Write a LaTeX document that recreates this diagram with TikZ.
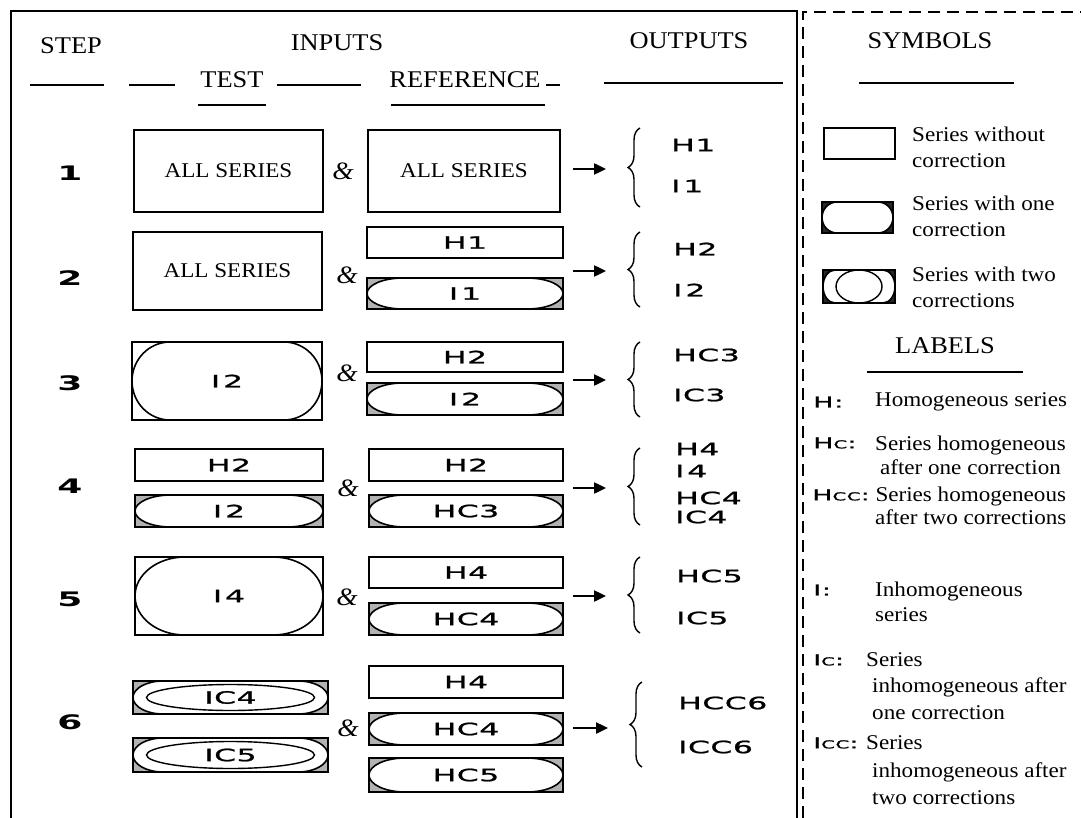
\documentclass[tikz,border=0pt]{standalone}
\usepackage{fontspec}
\setmainfont{Liberation Serif}[FakeStretch=1.1]
\newfontfamily\labfont{DejaVu Sans}[FakeStretch=1.85,LetterSpace=3,FakeBold=1.2]
\newfontfamily\numfont{DejaVu Sans Bold}[FakeStretch=1.8]
\newfontfamily\leglabfont{DejaVu Sans}[FakeStretch=1.8,LetterSpace=5,FakeBold=1.2]
\newcommand\smc[1]{{\fontsize{11}{11}\selectfont #1}}
\usetikzlibrary{calc,arrows.meta,decorations.pathreplacing}
\begin{document}
\begin{tikzpicture}[x=1pt,y=-1pt,
  hdtxt/.style={font=\fontsize{24}{27}\selectfont, inner sep=0pt},
  bxtxt/.style={font=\fontsize{21}{25}\selectfont, inner sep=0pt},
  lgtxt/.style={font=\fontsize{21}{26}\selectfont, inner sep=0pt, anchor=west},
  lab/.style={font=\labfont\fontsize{17}{19}\selectfont, inner sep=0pt},
  outlab/.style={lab, anchor=west},
  leglab/.style={font=\leglabfont\fontsize{15}{17}\selectfont, inner sep=0pt, anchor=west},
  stepnum/.style={font=\numfont\fontsize{20}{22}\selectfont, inner sep=0pt},
  ampnd/.style={font=\itshape\fontsize{25}{28}\selectfont, inner sep=0pt},
  hrule/.style={line width=1.8pt},
  frm/.style={line width=2pt},
  dfrm/.style={line width=2.6pt, dash pattern=on 12pt off 7pt},
  arr/.style={line width=2.4pt, -{Triangle[length=12pt,width=11pt]}},
  brc/.style={line width=1.4pt, decorate, decoration={brace, amplitude=12pt}},
  sbox/.style 2 args={draw, line width=2pt, inner sep=0pt, minimum width=#1pt, minimum height=#2pt, lab},
  stad/.style 2 args={insert path={
    ($(path picture bounding box.north west)+(#1pt,0pt)$) --
    ($(path picture bounding box.north east)+(-#1pt,0pt)$)
    arc[start angle=90, end angle=-90, x radius=#1pt, y radius=#2pt] --
    ($(path picture bounding box.south west)+(#1pt,0pt)$)
    arc[start angle=270, end angle=90, x radius=#1pt, y radius=#2pt] -- cycle}},
  corr/.style n args={5}{sbox={#1}{#2}, fill=#5, path picture={
    \path[fill=white, draw=black, line width=1.6pt, stad={#3}{#4}];}},
  corrtwo/.style n args={7}{sbox={#1}{#2}, fill=#5, path picture={
    \path[fill=white, draw=black, line width=1.6pt, stad={#3}{#4}];
    \draw[line width=1.4pt] (path picture bounding box.center) ellipse [x radius=#6pt, y radius=#7pt];}},
]
\useasboundingbox (0,0) rectangle (1081,818);

% frames
\draw[frm] (11,818) -- (11,11) -- (797,11) -- (797,818);
\draw[dfrm] (803,818) -- (803,12) -- (1081,12);

% headers
\node[hdtxt] (hstep) at (71,46) {STEP};
\node[hdtxt] (hin) at (337,43) {INPUTS};
\node[hdtxt] (htest) at (232,80) {TEST};
\node[hdtxt] (href) at (465,80) {REFERENCE};
\node[hdtxt] (hout) at (689,41) {OUTPUTS};
\node[hdtxt] (hsym) at (930,41) {SYMBOLS};
\draw[hrule] (30,85) -- (104,85);
\draw[hrule] (129,85) -- (175,85);
\draw[hrule] (277,85) -- (361,85);
\draw[hrule] (546,85) -- (560,85);
\draw[hrule] (198,105) -- (266,105);
\draw[hrule] (391,105) -- (545,105);
\draw[hrule] (604,83) -- (783,83);
\draw[hrule] (859,83) -- (1014,83);

% step numbers
\node[stepnum] (n1) at (70,173) {1};
\node[stepnum] (n2) at (70,278) {2};
\node[stepnum] (n3) at (70,383) {3};
\node[stepnum] (n4) at (70,486) {4};
\node[stepnum] (n5) at (70,599) {5};
\node[stepnum] (n6) at (70,722) {6};

% step 1
\node[sbox={189}{82}, bxtxt] (t1) at (228.5,171) {ALL SERIES};
\node[ampnd] (am1) at (343,171) {\&};
\node[sbox={192}{82}, bxtxt] (r1) at (464,171) {ALL SERIES};

% step 2
\node[sbox={189}{78}, bxtxt] (t2) at (227.5,271) {ALL SERIES};
\node[ampnd] (am2) at (347,275) {\&};
\node[sbox={196}{31}] (r2a) at (465,242.5) {H1};
\node[corr={196}{31}{36}{15.5}{gray!60}] (r2b) at (465,293.5) {I\,1};

% step 3
\node[corr={190}{78}{38}{39}{white}] (t3) at (227,381) {I\,2};
\node[ampnd] (am3) at (347,373) {\&};
\node[sbox={196}{30}] (r3a) at (465,357) {H2};
\node[corr={196}{32}{36}{16}{gray!60}] (r3b) at (465,399) {I\,2};

% step 4
\node[sbox={188}{32}] (t4a) at (229,465) {H2};
\node[corr={188}{32}{36}{16}{gray!60}] (t4b) at (229,511) {I\,2};
\node[ampnd] (am4) at (348,488) {\&};
\node[sbox={194}{32}] (r4a) at (466,465) {H2};
\node[corr={194}{32}{36}{16}{gray!60}] (r4b) at (466,511) {HC3};

% step 5
\node[corr={188}{78}{50}{39}{white}] (t5) at (229,596) {I\,4};
\node[ampnd] (am5) at (347,597) {\&};
\node[sbox={194}{31}] (r5a) at (466,572.5) {H4};
\node[corr={194}{32}{36}{16}{gray!60}] (r5b) at (466,619) {HC4};

% step 6
\node[corrtwo={195}{33}{30}{16.5}{gray!60}{84}{13}] (t6a) at (230.5,697.5) {IC4};
\node[corrtwo={195}{34}{30}{17}{gray!60}{84}{13.5}] (t6b) at (230.5,755) {IC5};
\node[ampnd] (am6) at (348,728) {\&};
\node[sbox={194}{32}] (r6a) at (466,682) {H4};
\node[corr={194}{32}{36}{16}{gray!60}] (r6b) at (466,729) {HC4};
\node[corr={194}{34}{36}{17}{gray!60}] (r6c) at (466,775) {HC5};

% arrows
\foreach \i/\yy/\xe in {1/169/606,2/271/606,3/380/606,4/488/606,5/596/606,6/728/608}{
  \coordinate (as\i) at (573,\yy);
  \coordinate (ae\i) at (\xe,\yy);
  \draw[arr] (as\i) -- (ae\i);
}
% braces
\foreach \i/\xx/\ya/\yb in {1/640/207/128,2/640/307/232,3/640/417/342,4/640/525/448,5/640/633/557,6/642/767/682}{
  \coordinate (bb\i) at (\xx,\ya);
  \coordinate (bt\i) at (\xx,\yb);
  \draw[brc] (bb\i) -- (bt\i);
}

% outputs
\node[outlab] (o1a) at (671,145) {H1};
\node[outlab] (o1b) at (671,186) {I\,1};
\node[outlab] (o2a) at (673,249) {H2};
\node[outlab] (o2b) at (673,290) {I\,2};
\node[outlab] (o3a) at (673,355) {HC3};
\node[outlab] (o3b) at (673,395) {IC3};
\node[outlab] (o4a) at (675,449) {H4};
\node[outlab] (o4b) at (675,471) {I\,4};
\node[outlab] (o4c) at (675,498) {HC4};
\node[outlab] (o4d) at (675,517) {IC4};
\node[outlab] (o5a) at (676,576) {HC5};
\node[outlab] (o5b) at (676,618) {IC5};
\node[outlab] (o6a) at (678,703) {HCC6};
\node[outlab] (o6b) at (678,747) {ICC6};

% symbols legend
\node[sbox={71}{31}, line width=2.4pt] (lb1) at (859.5,143.5) {};
\node[corr={71}{31}{15}{15.5}{black!85}, line width=2.6pt] (lb2) at (857.5,217.5) {};
\node[corrtwo={72}{33}{12}{16.5}{black!85}{23}{16.5}, line width=2.6pt] (lb3) at (859,286.5) {};
\node[lgtxt, align=left] (ls1) at (912,147) {Series without\\correction};
\node[lgtxt, align=left] (ls2) at (912,216) {Series with one\\correction};
\node[lgtxt, align=left] (ls3) at (912,287) {Series with two\\corrections};

% labels legend
\node[hdtxt] (hlab) at (945,346) {LABELS};
\draw[hrule] (867,372) -- (1023,372);

\node[leglab] (k1) at (813,402) {H:};
\node[lgtxt] (d1) at (875,402) {Homogeneous series};
\node[leglab] (k2) at (813,443) {H\smc{C}:};
\node[lgtxt, align=center, font=\fontsize{21}{24}\selectfont] (d2) at (875,455) {Series homogeneous\\after one correction};
\node[leglab] (k3) at (812,495) {H\smc{CC}:};
\node[lgtxt, align=center, font=\fontsize{21}{23}\selectfont] (d3) at (875,506) {Series homogeneous\\after two corrections};
\node[leglab] (k4) at (813,590) {I:};
\node[lgtxt, align=left, font=\fontsize{21}{25}\selectfont] (d4) at (875,602) {Inhomogeneous\\series};
\node[leglab] (k5) at (813,660) {I\smc{C}:};
\node[lgtxt] (d5a) at (866,660) {Series};
\node[lgtxt] (d5b) at (872,687) {inhomogeneous after};
\node[lgtxt] (d5c) at (872,713) {one correction};
\node[leglab] (k6) at (813,743) {I\smc{CC}:};
\node[lgtxt] (d6a) at (866,743) {Series};
\node[lgtxt] (d6b) at (872,772) {inhomogeneous after};
\node[lgtxt] (d6c) at (872,798) {two corrections};
\end{tikzpicture}
\end{document}
